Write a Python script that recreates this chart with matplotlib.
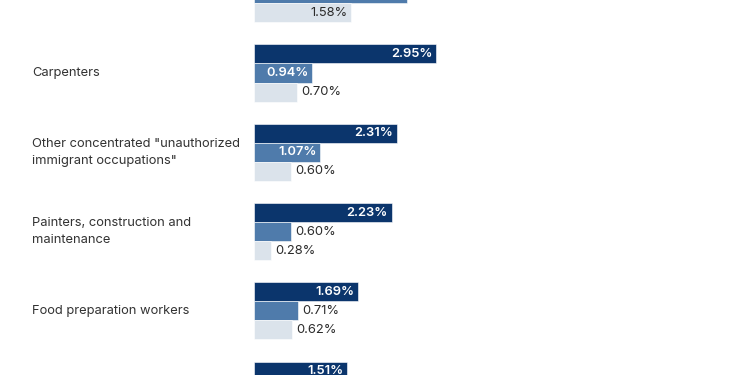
import numpy as np
import matplotlib
matplotlib.use("Agg")
import matplotlib.pyplot as plt
from matplotlib.transforms import blended_transform_factory

plt.rcParams["font.family"] = ["Inter", "DejaVu Sans"]

# ------------------------------------------------------------
# Data (first and last groups are cut off)
# ------------------------------------------------------------

occupations = [
    "Maids and housekeeping cleaners",
    "Carpenters",
    'Other concentrated "unauthorized\nimmigrant occupations"',
    "Painters, construction and\nmaintenance",
    "Food preparation workers",
    "Cooks",
]

dark_values = [3.40, 2.95, 2.31, 2.23, 1.69, 1.51]
mid_values = [2.48, 0.94, 1.07, 0.60, 0.71, 0.80]
light_values = [1.58, 0.70, 0.60, 0.28, 0.62, 0.70]

series = [
    (dark_values, "#0b356c", "white"),
    (mid_values, "#4f7bab", "white"),
    (light_values, "#dbe3eb", "#2b2b2b"),
]

# ------------------------------------------------------------
# Layout
# ------------------------------------------------------------

fig = plt.figure(figsize=(7.5, 3.75), dpi=100)
ax = fig.add_axes([254 / 750, 0, 496 / 750, 1])

px_per_pct = 61.7
ax.set_xlim(0, 496 / px_per_pct)
ax.set_ylim(1 + 302 / 79.3, 1 - 73 / 79.3)
ax.axis("off")

bar_h = 0.24
y = np.arange(len(occupations))
inside_min = 0.85  # bars narrower than this get the label outside

for k, (values, color, inner_text) in enumerate(series):
    ypos = y + (k - 1) * bar_h
    ax.barh(ypos, values, height=bar_h, color=color,
            edgecolor="white", linewidth=0.4)
    for yy, v in zip(ypos, values):
        label = f"{v:.2f}%"
        if v >= inside_min:
            ax.text(v - 0.06, yy, label, ha="right", va="center",
                    fontsize=9.3, color=inner_text,
                    fontweight="semibold" if inner_text == "white" else "normal")
        else:
            ax.text(v + 0.07, yy, label, ha="left", va="center",
                    fontsize=9.3, color="#2b2b2b")

trans = blended_transform_factory(fig.transFigure, ax.transData)
for yy, name in zip(y, occupations):
    ax.text(32 / 750, yy, name, transform=trans, ha="left", va="center",
            fontsize=9.3, color="#333333", linespacing=1.5)

fig.savefig("out.png", dpi=100)
